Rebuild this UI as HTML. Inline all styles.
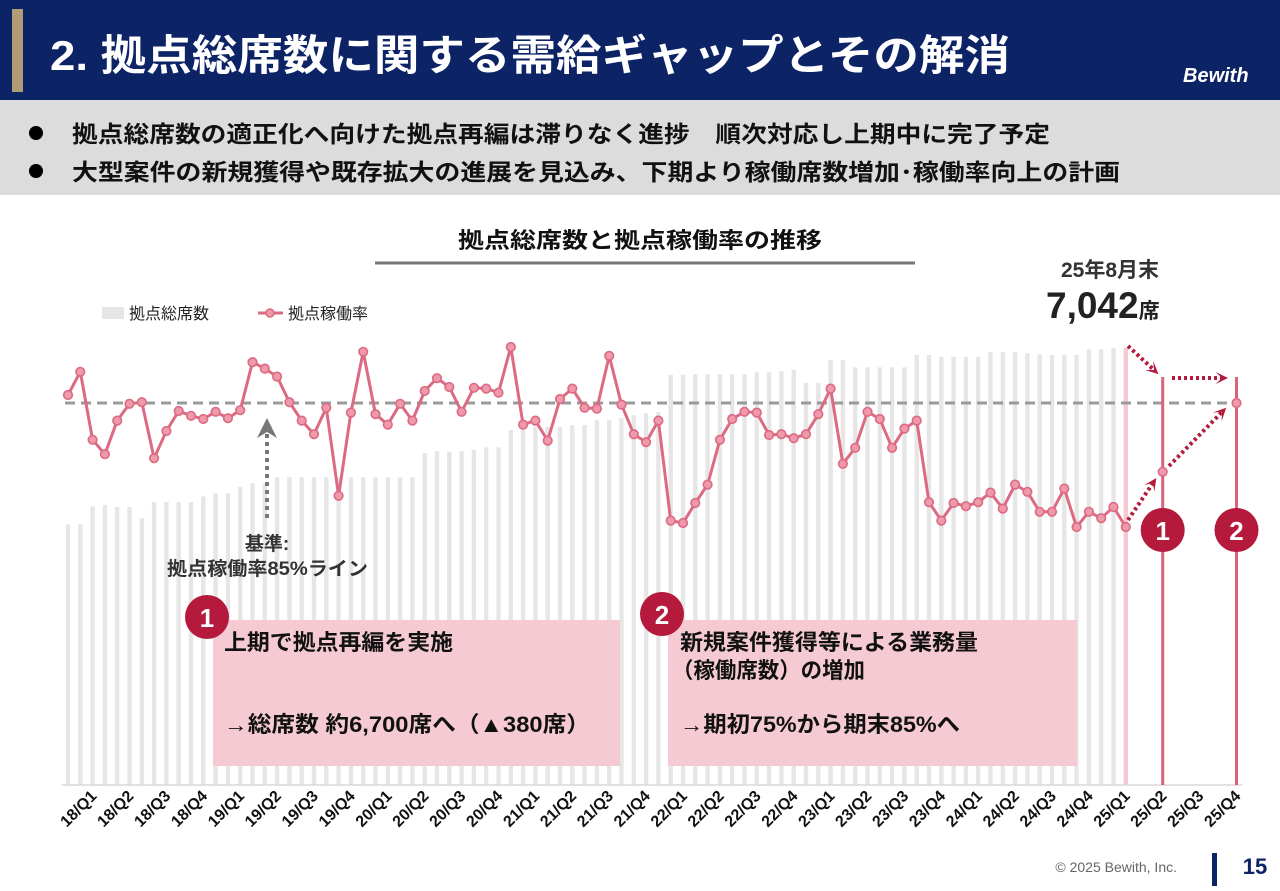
<!DOCTYPE html>
<html><head><meta charset="utf-8">
<style>
body{margin:0;width:1280px;height:886px;overflow:hidden;background:#fff;font-family:"Liberation Sans","Noto Sans CJK JP",sans-serif;}
svg text{font-family:"Liberation Sans","Noto Sans CJK JP",sans-serif;}
</style></head>
<body>
<svg width="1280" height="886" viewBox="0 0 1280 886" xmlns="http://www.w3.org/2000/svg">
<rect x="0" y="0" width="1280" height="100" fill="#0c2366"/>
<rect x="12" y="9" width="11" height="83" fill="#b09d76"/>
<text x="50" y="70" font-size="42" font-weight="bold" fill="#fff" textLength="960" lengthAdjust="spacingAndGlyphs">2. 拠点総席数に関する需給ギャップとその解消</text>
<text x="1183" y="82" font-size="20" font-weight="bold" font-style="italic" fill="#fff" font-family="Liberation Serif,serif">Bewith</text>
<rect x="0" y="100" width="1280" height="95" fill="#dcdcdc"/>
<circle cx="36" cy="133" r="7" fill="#000"/>
<text x="72" y="142" font-size="23" font-weight="bold" fill="#111" textLength="978" lengthAdjust="spacingAndGlyphs">拠点総席数の適正化へ向けた拠点再編は滞りなく進捗　順次対応し上期中に完了予定</text>
<circle cx="36" cy="171" r="7" fill="#000"/>
<text x="72" y="180" font-size="23" font-weight="bold" fill="#111" textLength="1048" lengthAdjust="spacingAndGlyphs">大型案件の新規獲得や既存拡大の進展を見込み、下期より稼働席数増加･稼働率向上の計画</text>

<text x="458" y="248" font-size="22" font-weight="bold" fill="#111" textLength="364" lengthAdjust="spacingAndGlyphs">拠点総席数と拠点稼働率の推移</text>
<line x1="375" y1="263" x2="915" y2="263" stroke="#777" stroke-width="3"/>

<rect x="102" y="307" width="22" height="12" fill="#e6e6e6"/>
<text x="129" y="319" font-size="16" fill="#222">拠点総席数</text>
<line x1="258" y1="313" x2="283" y2="313" stroke="#de6a82" stroke-width="3"/>
<circle cx="270" cy="313" r="4" fill="#ee9aab" stroke="#de6a82" stroke-width="1.5"/>
<text x="288" y="319" font-size="16" fill="#222">拠点稼働率</text>

<text x="1110" y="277" font-size="21" font-weight="bold" fill="#333" text-anchor="middle">25年8月末</text>
<text x="1046" y="318" font-size="37" font-weight="bold" fill="#222">7,042<tspan font-size="21">席</tspan></text>

<g id="bars"></g>
<line x1="62" y1="785" x2="1242" y2="785" stroke="#d9d9d9" stroke-width="1.5"/>
<g id="xlabels"></g>

<rect x="213" y="620" width="407" height="146" fill="#f5cad3"/>
<text x="224" y="650" font-size="22" font-weight="bold" fill="#111" textLength="229" lengthAdjust="spacingAndGlyphs">上期で拠点再編を実施</text>
<text x="224" y="732" font-size="22" font-weight="bold" fill="#111" textLength="366" lengthAdjust="spacingAndGlyphs">→総席数 約6,700席へ（▲380席）</text>
<circle cx="207" cy="617" r="22" fill="#b51a3c"/>
<text x="207" y="627" font-size="26" font-weight="bold" fill="#fff" text-anchor="middle">1</text>

<rect x="668" y="620" width="409" height="146" fill="#f5cad3"/>
<text x="680" y="650" font-size="22" font-weight="bold" fill="#111" textLength="298" lengthAdjust="spacingAndGlyphs">新規案件獲得等による業務量</text>
<text x="672" y="678" font-size="22" font-weight="bold" fill="#111" textLength="193" lengthAdjust="spacingAndGlyphs">（稼働席数）の増加</text>
<text x="680" y="732" font-size="22" font-weight="bold" fill="#111" textLength="280" lengthAdjust="spacingAndGlyphs">→期初75%から期末85%へ</text>
<circle cx="662" cy="614" r="22" fill="#b51a3c"/>
<text x="662" y="624" font-size="26" font-weight="bold" fill="#fff" text-anchor="middle">2</text>

<line x1="65" y1="403" x2="1240" y2="403" stroke="#9a9a9a" stroke-width="3" stroke-dasharray="10 6"/>
<line x1="267" y1="518" x2="267" y2="432" stroke="#777" stroke-width="4" stroke-dasharray="4 4"/>
<polygon points="267,418 257,438 267,432 277,438" fill="#777"/>
<text x="267" y="550" font-size="19" font-weight="bold" fill="#333" text-anchor="middle">基準:</text>
<text x="167" y="575" font-size="19" font-weight="bold" fill="#333" textLength="201" lengthAdjust="spacingAndGlyphs">拠点稼働率85%ライン</text>

<g id="forecast"></g>
<g id="line"></g>

<text x="1177" y="872" font-size="14" fill="#666" text-anchor="end">© 2025 Bewith, Inc.</text>
<rect x="1212" y="853" width="5" height="33" fill="#0c2366"/>
<text x="1255" y="874" font-size="22" font-weight="bold" fill="#0c2366" text-anchor="middle">15</text>
</svg>
<script>
const quarterLabels = ["18/Q1","18/Q2","18/Q3","18/Q4","19/Q1","19/Q2","19/Q3","19/Q4","20/Q1","20/Q2","20/Q3","20/Q4","21/Q1","21/Q2","21/Q3","21/Q4","22/Q1","22/Q2","22/Q3","22/Q4","23/Q1","23/Q2","23/Q3","23/Q4","24/Q1","24/Q2","24/Q3","24/Q4","25/Q1","25/Q2","25/Q3","25/Q4"];
const seats = [4200,4200,4490,4510,4480,4480,4300,4560,4560,4560,4560,4650,4700,4700,4800,4860,4860,4960,4960,4960,4960,4960,4960,4960,4960,4960,4960,4960,4960,5350,5380,5370,5380,5400,5440,5440,5720,5720,5770,5770,5770,5800,5800,5880,5880,5910,5960,5990,6010,6610,6610,6620,6620,6620,6620,6620,6650,6650,6670,6690,6480,6480,6850,6850,6730,6730,6730,6730,6730,6930,6930,6900,6900,6900,6900,6980,6980,6980,6960,6940,6930,6930,6930,7020,7020,7042,7042];
const rate = [86.0,88.9,80.4,78.6,82.8,84.9,85.1,78.1,81.5,84.0,83.4,83.0,83.9,83.1,84.1,90.1,89.3,88.3,85.1,82.8,81.1,84.4,73.4,83.8,91.4,83.6,82.3,84.9,82.8,86.5,88.1,87.0,83.9,86.9,86.8,86.3,92.0,82.3,82.8,80.3,85.5,86.8,84.4,84.3,90.9,84.8,81.1,80.1,82.8,70.3,70.0,72.5,74.8,80.4,83.0,83.9,83.8,81.0,81.1,80.6,81.1,83.6,86.8,77.4,79.4,83.9,83.0,79.4,81.8,82.8,72.6,70.3,72.5,72.1,72.6,73.8,71.8,74.8,73.9,71.4,71.4,74.3,69.5,71.4,70.6,72.0,69.5];
const forecastMonths = [89,95];
const forecastRate = [76.4,85.0];
const NS='http://www.w3.org/2000/svg';
const xOf = i => 68 + i*12.3;
const yRate = v => 403 - (v-85)*8;
const ySeat = v => 785 - v*437/7042;
function mk(tag, attrs, parent){const e=document.createElementNS(NS,tag);for(const k in attrs)e.setAttribute(k,attrs[k]);parent.appendChild(e);return e;}
const gb=document.getElementById('bars');
seats.forEach((v,i)=>{
  const r=mk('rect',{x:xOf(i)-2.2,y:ySeat(v),width:4.4,height:785-ySeat(v),fill:i===seats.length-1?'#f6c9d2':'#e6e6e6'},gb);
  
  
});
const gx=document.getElementById('xlabels');
quarterLabels.forEach((t,k)=>{
  const x=xOf(2+3*k)+5, y=797;
  const e=mk('text',{x:x,y:y,'font-size':16,'font-weight':'bold',fill:'#111','text-anchor':'end',transform:`rotate(-45 ${x} ${y})`},gx);
  e.textContent=t;
  
  
});
const gf=document.getElementById('forecast');
forecastMonths.forEach((m,k)=>{
  const l=mk('line',{x1:xOf(m),y1:377,x2:xOf(m),y2:785,stroke:'#d8647c','stroke-width':3},gf);
  
  
  const c=mk('circle',{cx:xOf(m),cy:530,r:22,fill:'#b51a3c'},gf);
  
  
  const t=mk('text',{x:xOf(m),y:540,'font-size':26,'font-weight':'bold',fill:'#fff','text-anchor':'middle'},gf);
  t.textContent=String(k+1);
  
  
});
const arrows=[[1128,346,1154,370],[1172,378,1222,378],[1128,520,1153,483],[1169,466,1222,412]];
arrows.forEach(a=>{
  const l=mk('line',{x1:a[0],y1:a[1],x2:a[2],y2:a[3],stroke:'#b51a3c','stroke-width':4,'stroke-dasharray':'3 3'},gf);
  
  
  const ang=Math.atan2(a[3]-a[1],a[2]-a[0]);
  const hx=a[2]+Math.cos(ang)*6, hy=a[3]+Math.sin(ang)*6;
  const p1=[hx-Math.cos(ang-0.45)*14,hy-Math.sin(ang-0.45)*14],p2=[hx-Math.cos(ang+0.45)*14,hy-Math.sin(ang+0.45)*14];
  const h=mk('polygon',{points:`${hx},${hy} ${p1} ${a[2]},${a[3]} ${p2}`,fill:'#b51a3c'},gf);
  
  
});
const gl=document.getElementById('line');
const pl=mk('polyline',{points:rate.map((v,i)=>`${xOf(i)},${yRate(v)}`).join(' '),fill:'none',stroke:'#dc6a82','stroke-width':3,'stroke-linejoin':'round'},gl);


rate.forEach((v,i)=>{
  const c=mk('circle',{cx:xOf(i),cy:yRate(v),r:4.3,fill:'#ee9aab',stroke:'#dc6a82','stroke-width':1.6},gl);
  
  
});
forecastMonths.forEach((m,k)=>{
  const c=mk('circle',{cx:xOf(m),cy:yRate(forecastRate[k]),r:4.3,fill:'#ee9aab',stroke:'#dc6a82','stroke-width':1.6},gl);
  
  
});
</script>
</body></html>
